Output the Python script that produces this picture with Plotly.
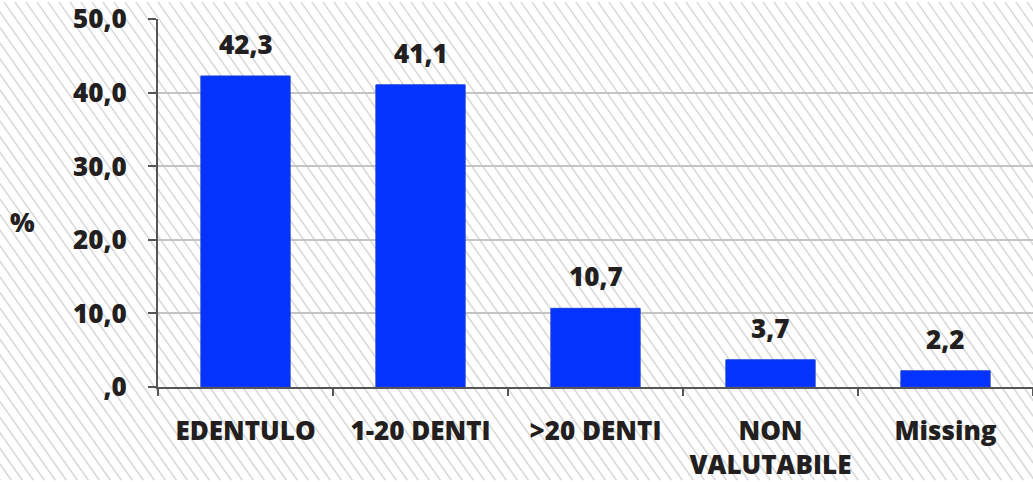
import plotly.graph_objects as go

categories = ["EDENTULO", "1-20 DENTI", ">20 DENTI", "NON<br>VALUTABILE", "Missing"]
values = [42.3, 41.1, 10.7, 3.7, 2.2]
value_labels = ["42,3", "41,1", "10,7", "3,7", "2,2"]
y_ticks = [0, 10, 20, 30, 40, 50]
y_tick_labels = [",0", "10,0", "20,0", "30,0", "40,0", "50,0"]

W, H = 1033, 482
ML, MR, MT, MB = 158, 0, 17, 94
PW, PH = W - ML - MR, H - MT - MB

FONT = "Open Sans"
TXT = "#231f20"
BAR = "#0433ff"
FS = 26
FW = 800


def px_to_paper(x, y):
    return (x - ML) / PW, 1 - (y - MT) / PH


# diagonal hatch over the whole canvas
shapes = []
step, slant = 11, 0.7
c = -int(H * slant) - step
while c < W + step:
    x0, y0 = px_to_paper(c, 0)
    x1, y1 = px_to_paper(c + H * slant, H)
    shapes.append(dict(type="line", xref="paper", yref="paper",
                       x0=x0, y0=y0, x1=x1, y1=y1, layer="below",
                       line=dict(color="#d9d9d9", width=1.6)))
    c += step

fig = go.Figure(go.Bar(
    x=categories, y=values,
    marker=dict(color=BAR, line=dict(color="#1a3fd8", width=1)),
    width=0.51,
))

label_font = dict(family=FONT, size=FS, color=TXT, weight=FW)
annotations = [
    dict(x=cat, y=v, text=lbl, showarrow=False, yanchor="bottom", yshift=12,
         font=label_font)
    for cat, v, lbl in zip(categories, values, value_labels)
]
px_, py_ = px_to_paper(22, 222)
annotations.append(dict(xref="paper", yref="paper", x=px_, y=py_, text="%",
                        showarrow=False, xanchor="center", yanchor="middle",
                        font=label_font))

fig.update_layout(
    width=W, height=H,
    margin=dict(l=ML, r=MR, t=MT, b=MB, pad=0),
    paper_bgcolor="white", plot_bgcolor="rgba(0,0,0,0)",
    showlegend=False,
    shapes=shapes,
    annotations=annotations,
    font=label_font,
    xaxis=dict(
        showgrid=False, showline=True, linecolor="#555555", linewidth=2,
        ticks="outside", tickson="boundaries", ticklen=7, tickcolor="#555555",
        tickwidth=2, ticklabelstandoff=20,
        tickfont=label_font,
    ),
    yaxis=dict(
        range=[0, 50.05], tickvals=y_ticks, ticktext=y_tick_labels,
        showgrid=True, gridcolor="#c4c4c4", gridwidth=2,
        showline=True, linecolor="#555555", linewidth=2,
        ticks="outside", ticklen=8, tickcolor="#555555", tickwidth=2,
        ticklabelstandoff=16, ticklabeloverflow="allow", zeroline=False,
        tickfont=label_font,
    ),
)

fig.write_html("out.html")
